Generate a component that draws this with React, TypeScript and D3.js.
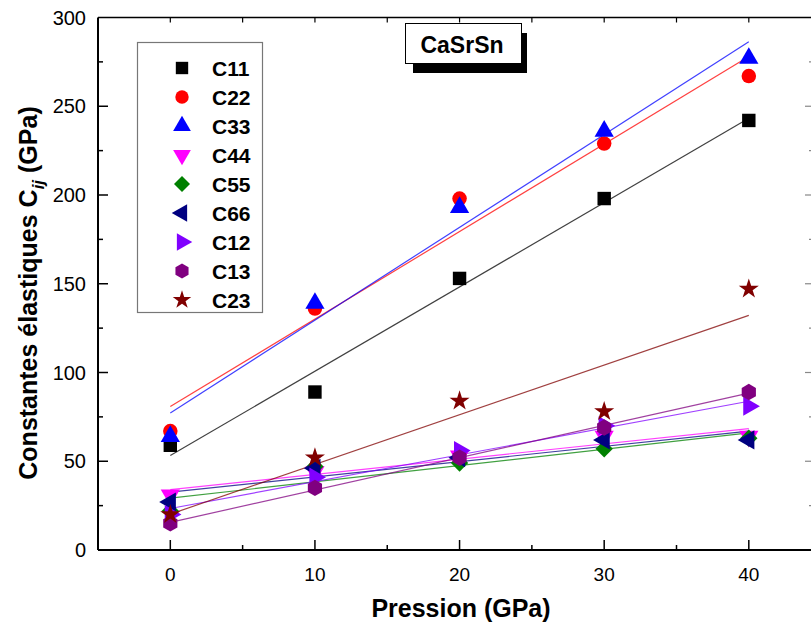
import React from "react";
import * as d3 from "d3";

const pressures = [0, 10, 20, 30, 40];
const seriesNames = ["C11", "C22", "C33", "C44", "C55", "C66", "C12", "C13", "C23"];
const C11 = [59, 89, 153, 198, 242];
const C22 = [67, 136, 198, 229, 267];
const C33 = [64, 139, 193, 236, 277];
const C44 = [31, 44, 53, 64, 64];
const C55 = [22, 47, 49, 57, 63];
const C66 = [27, 46, 52, 62, 62];
const C12 = [20, 41, 56, 70, 81];
const C13 = [15, 35, 52, 69, 89];
const C23 = [20, 52, 84, 78, 147];
const seriesValues = [C11, C22, C33, C44, C55, C66, C12, C13, C23];
const colors = ["#000000", "#ff0000", "#0000ff", "#ff00ff", "#008000", "#000080", "#8000ff", "#800080", "#800000"];
const shapes = ["square", "circle", "up", "down", "diamond", "left", "right", "hexagon", "star"];
const xTicks = [0, 10, 20, 30, 40];
const yTicks = [0, 50, 100, 150, 200, 250, 300];

const W = 811, H = 628;
const x = d3.scaleLinear().domain([-5, 44.3]).range([98, 811]);
const y = d3.scaleLinear().domain([0, 300]).range([550, 17.5]);

function fit(xs: number[], ys: number[]) {
  const mx = d3.mean(xs)!, my = d3.mean(ys)!;
  let num = 0, den = 0;
  xs.forEach((v, i) => { num += (v - mx) * (ys[i] - my); den += (v - mx) ** 2; });
  const b = num / den;
  return { a: my - b * mx, b };
}

function hexPath(r: number) {
  const pts = d3.range(6).map(i => {
    const ang = Math.PI / 6 + (i * Math.PI) / 3;
    return [r * Math.cos(ang), r * Math.sin(ang)];
  });
  return "M" + pts.map(p => p.join(",")).join("L") + "Z";
}

function Marker({ shape, cx, cy, color, k = 1 }: { shape: string; cx: number; cy: number; color: string; k?: number }) {
  let d = "";
  let rot = 0;
  if (shape === "square") d = d3.symbol(d3.symbolSquare, 180 * k)()!;
  else if (shape === "circle") d = d3.symbol(d3.symbolCircle, 165 * k)()!;
  else if (shape === "diamond") { d = d3.symbol(d3.symbolSquare, 150 * k)()!; rot = 45; }
  else if (shape === "star") d = d3.symbol(d3.symbolStar, 125 * k)()!;
  else if (shape === "hexagon") d = hexPath(8.2 * Math.sqrt(k));
  else {
    d = d3.symbol(d3.symbolTriangle, 160 * k)()!;
    rot = shape === "up" ? 0 : shape === "down" ? 180 : shape === "left" ? -90 : 90;
  }
  return <path d={d} transform={`translate(${cx},${cy}) rotate(${rot})`} fill={color} />;
}

export default function App() {
  const xMinor = d3.range(-5, 45, 5);
  const yMinor = d3.range(0, 301, 25);
  const font = "Arial, 'Liberation Sans', sans-serif";
  const legendRows = seriesNames.map((n, i) => ({ n, i, yy: 68 + i * 29 }));
  return (
    <svg width={W} height={H} style={{ position: "absolute", left: 0, top: 0, background: "#fff" }} fontFamily={font}>
      <rect x={0} y={0} width={W} height={H} fill="#fff" />
      {/* fit lines */}
      {seriesValues.map((vals, i) => {
        const f = fit(pressures, vals);
        return (
          <line key={"l" + i} x1={x(0)} y1={y(f.a)} x2={x(40)} y2={y(f.a + f.b * 40)}
            stroke={colors[i]} strokeWidth={1.2} strokeOpacity={0.75} />
        );
      })}
      {/* markers */}
      {seriesValues.map((vals, i) =>
        vals.map((v, j) => (
          <Marker key={`m${i}-${j}`} shape={shapes[i]} cx={x(pressures[j])} cy={y(v)} color={colors[i]} />
        ))
      )}
      {/* axes frame */}
      <line x1={98} y1={550} x2={811} y2={550} stroke="#000" strokeWidth={2} />
      <line x1={98} y1={17.5} x2={811} y2={17.5} stroke="#000" strokeWidth={1.5} />
      <line x1={98} y1={17.5} x2={98} y2={550} stroke="#000" strokeWidth={2} />
      <line x1={813} y1={17.5} x2={813} y2={550} stroke="#000" strokeWidth={1.5} />
      {/* x ticks */}
      {xMinor.filter(t => t > -5).map(t => {
        const major = t % 10 === 0;
        return (
          <g key={"xt" + t}>
            <line x1={x(t)} x2={x(t)} y1={550} y2={550 - (major ? 10 : 5)} stroke="#000" strokeWidth={1.5} />
            <line x1={x(t)} x2={x(t)} y1={17.5} y2={17.5 + 5} stroke="#000" strokeWidth={1.2} />
          </g>
        );
      })}
      {xTicks.map(t => (
        <text key={"xl" + t} x={x(t)} y={581} textAnchor="middle" fontSize={19} fill="#000">{t}</text>
      ))}
      {/* y ticks */}
      {yMinor.filter(t => t > 0 && t < 300).map(t => {
        const major = t % 50 === 0;
        return (
          <g key={"yt" + t}>
            <line x1={98} x2={98 + (major ? 10 : 5)} y1={y(t)} y2={y(t)} stroke="#000" strokeWidth={1.5} />
            <line x1={813} x2={813 - (major ? 8 : 4)} y1={y(t)} y2={y(t)} stroke="#888" strokeWidth={1.2} />
          </g>
        );
      })}
      {yTicks.map(t => (
        <text key={"yl" + t} x={86} y={y(t) + 7} textAnchor="end" fontSize={20} fill="#000">{t}</text>
      ))}
      {/* axis titles */}
      <text x={461} y={617} textAnchor="middle" fontSize={25} fontWeight="bold" fill="#000">Pression (GPa)</text>
      <text transform="translate(37,293) rotate(-90)" textAnchor="middle" fontSize={25} fontWeight="bold" fill="#000">
        Constantes élastiques C<tspan fontStyle="italic" fontSize={17} dy={7}>ij</tspan><tspan dy={-7}> (GPa)</tspan>
      </text>
      {/* legend */}
      <rect x={137.5} y={42.5} width={125} height={270} fill="#fff" stroke="#777" strokeWidth={1.2} />
      {legendRows.map(r => (
        <g key={"lg" + r.n}>
          <Marker shape={shapes[r.i]} cx={182} cy={r.yy} color={colors[r.i]} k={0.85} />
          <text x={212} y={r.yy + 8} fontSize={21} fontWeight="bold" fill="#000">{r.n}</text>
        </g>
      ))}
      {/* title box */}
      <rect x={413} y={33} width={114} height={40} fill="#000" />
      <rect x={405.5} y={23.5} width={116} height={40} fill="#fff" stroke="#000" strokeWidth={1} />
      <text x={462} y={53} textAnchor="middle" fontSize={23} fontWeight="bold" fill="#000">CaSrSn</text>
    </svg>
  );
}
